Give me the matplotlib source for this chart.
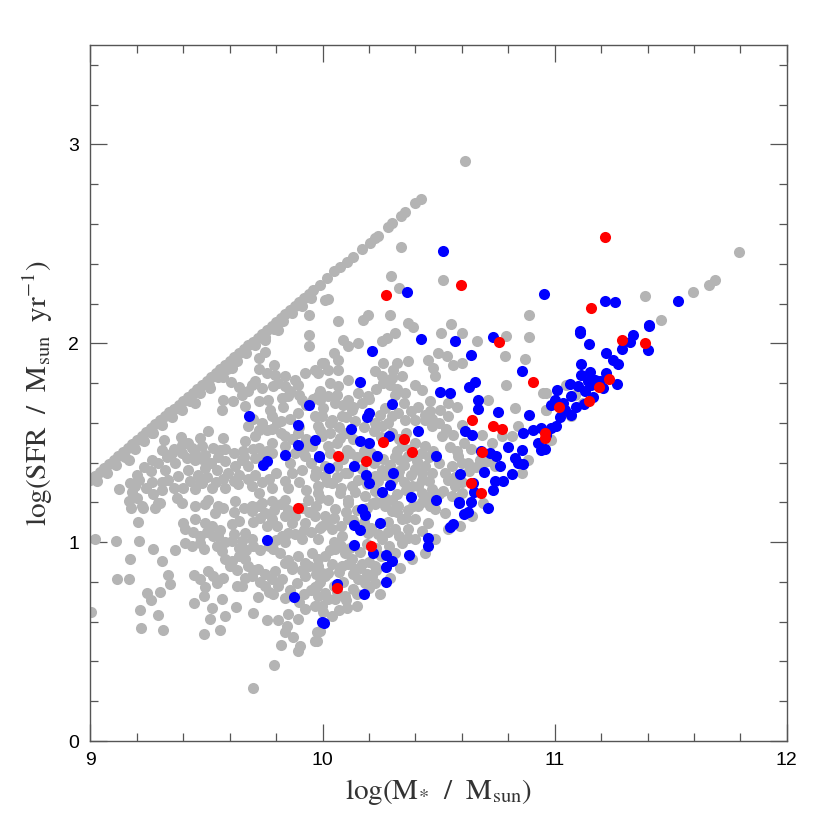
import matplotlib
matplotlib.use("Agg")
import matplotlib.pyplot as plt
from matplotlib.ticker import MultipleLocator

# ---------------- data (log M*, log SFR) ----------------
# gray: upper-envelope sequence
line_x = [9.00, 9.02, 9.04, 9.06, 9.08, 9.10, 9.12, 9.14, 9.16, 9.18, 9.20, 9.22, 9.24, 9.26,
          9.28, 9.30, 9.32, 9.34, 9.36, 9.38, 9.40, 9.42, 9.44, 9.46, 9.48, 9.50, 9.52, 9.54,
          9.56, 9.58, 9.60, 9.62, 9.64, 9.66, 9.68, 9.70, 9.72, 9.74, 9.76, 9.78, 9.80, 9.82,
          9.84, 9.86, 9.88, 9.90, 9.92, 9.94, 9.96, 9.990, 10.018, 10.047, 10.076, 10.104,
          10.133, 10.169, 10.205, 10.226, 10.240, 10.281, 10.301, 10.338, 10.355, 10.398, 10.424,
          9.03, 9.07, 9.11, 9.15, 9.19, 9.23, 9.27, 9.31, 9.35, 9.39, 9.43, 9.47, 9.51, 9.55,
          9.59, 9.63, 9.67, 9.71, 9.75, 9.79, 9.83, 9.87, 9.91, 9.95]
line_y = [1.315, 1.335, 1.355, 1.375, 1.394, 1.414, 1.434, 1.454, 1.474, 1.494, 1.513, 1.533,
          1.553, 1.573, 1.593, 1.612, 1.632, 1.652, 1.672, 1.692, 1.711, 1.731, 1.751, 1.771,
          1.791, 1.810, 1.830, 1.850, 1.870, 1.890, 1.909, 1.929, 1.949, 1.969, 1.989, 2.008,
          2.028, 2.048, 2.068, 2.088, 2.107, 2.127, 2.147, 2.167, 2.187, 2.206, 2.226, 2.246,
          2.266, 2.294, 2.328, 2.361, 2.386, 2.411, 2.436, 2.475, 2.503, 2.528, 2.542, 2.584,
          2.604, 2.640, 2.662, 2.704, 2.726,
          1.31, 1.35, 1.39, 1.43, 1.47, 1.51, 1.55, 1.59, 1.63, 1.67, 1.71, 1.75, 1.79, 1.83,
          1.87, 1.91, 1.95, 1.99, 2.03, 2.07, 2.11, 2.15, 2.19, 2.23]

# gray: main cloud
gray_x = [
    9.941, 9.941, 9.752, 9.752, 9.724, 9.726, 9.792, 9.795, 9.838, 9.881, 9.924, 9.967, 9.996,
    9.606, 9.606, 9.695, 9.738, 9.788, 9.838, 9.896, 9.853, 9.910, 9.982, 9.573, 9.566, 9.616,
    9.652, 9.666, 9.724, 9.766, 9.774, 9.824, 9.831, 9.781, 9.802, 9.759, 9.724, 9.680, 9.709,
    9.896, 9.967, 10.003, 9.982, 9.996, 9.953, 9.924, 10.010, 9.896, 9.838, 9.838, 9.781, 9.759,
    9.724, 9.666, 9.659, 9.709, 9.680, 9.573, 9.508, 9.473, 9.480, 9.437, 9.394, 9.394, 9.351,
    9.308, 9.315, 9.265, 9.322, 9.365, 9.415, 9.451, 9.494, 9.530, 9.559, 9.580, 9.623, 9.652,
    9.594, 9.544, 9.494, 9.465, 9.422, 9.379, 9.336, 9.308, 9.265, 9.207, 9.172, 9.193, 9.121,
    9.164, 9.222, 9.293, 9.372, 9.394, 9.451, 9.480, 9.523, 9.580, 9.637, 9.695, 9.724, 9.781,
    9.838, 9.867, 9.910, 9.967, 9.982, 9.939, 9.838, 9.781, 9.738, 9.695, 9.623, 9.551, 9.508,
    9.451,
    9.164, 9.265, 9.394, 9.451, 9.516, 9.569, 9.609, 9.807, 9.941, 10.010,
    9.021, 9.110, 9.210, 9.169, 9.114, 9.164, 9.002, 9.205, 9.174, 9.225, 9.276, 9.301, 9.269,
    9.308, 9.365, 9.336, 9.344, 9.245, 9.259, 9.301, 9.213, 9.289, 9.219, 9.313, 9.399, 9.444,
    9.473, 9.508, 9.530, 9.573, 9.544, 9.494, 9.487, 9.447, 9.523, 9.566, 9.627, 9.516, 9.580,
    9.559, 9.491, 9.702, 9.761, 9.807, 9.723, 9.785, 9.792, 9.702, 9.821, 9.874, 9.903, 9.896,
    9.967, 9.974, 9.838, 9.845, 9.853, 9.896, 9.924, 9.967, 9.982, 9.967, 9.408, 9.437, 9.473,
    9.487, 9.544, 9.566, 9.580, 9.609, 9.638, 9.666, 9.609, 9.652, 9.666, 9.695, 9.609, 9.638,
    9.695, 9.724, 9.752, 9.781, 9.802, 9.838, 9.867, 9.853, 9.824, 9.788, 9.817, 9.838, 9.867,
    9.896, 9.924, 9.953, 9.982, 9.996, 9.924, 9.888, 9.824, 9.781, 9.752, 9.723, 9.695, 9.666,
    9.652, 9.630, 9.752, 9.795, 9.451, 9.494, 9.523, 9.537, 9.494, 9.573, 9.408, 9.551, 9.924,
    9.967, 9.982, 9.910,
    10.104, 10.150, 10.248, 10.291, 10.334, 10.384, 10.441, 10.484, 10.541, 10.592, 10.642,
    10.692, 9.990, 9.975, 9.997, 10.025, 10.054, 10.097, 10.133, 10.183, 10.212, 10.140, 10.169,
    10.226, 10.312, 10.341, 10.398, 10.427, 10.398, 10.341, 10.298, 10.269, 10.226, 10.111,
    10.054, 10.011, 9.997, 10.040, 10.083, 10.054, 10.097, 10.011, 9.982, 10.025, 10.083,
    10.126, 10.154, 10.226, 9.975, 10.011, 10.484, 10.527, 10.455, 10.369, 10.312, 10.255,
    10.284, 10.197, 10.111,
    10.068, 10.176, 10.367, 10.388, 10.553, 10.510, 10.599, 10.666, 10.792, 10.890, 10.785,
    10.871, 10.792, 10.950, 10.964, 10.828, 10.843, 10.714, 10.580, 10.539, 10.599, 10.685,
    10.728, 10.771, 10.814, 10.857, 10.886, 10.742, 10.714, 10.678, 10.627, 10.584, 10.556,
    10.527, 10.541, 10.570, 10.599, 10.556, 10.520, 10.470, 10.455, 10.412, 10.369, 10.326,
    10.298, 10.384, 10.427, 10.470, 10.441, 10.405, 10.369, 10.334, 10.319, 10.341, 10.398,
    10.441, 10.477, 10.513, 10.470, 10.441, 10.398, 10.355, 10.326, 10.298, 10.283, 10.255,
    10.226, 10.248, 10.269, 10.312, 10.355, 10.398, 10.427, 10.463, 10.463, 10.506, 10.541,
    10.484, 10.477, 10.563, 10.599, 10.534, 10.498, 10.455, 10.369, 10.319, 10.305, 10.262,
    10.226, 10.255, 10.298, 10.341, 10.255, 10.276, 10.312, 10.090, 10.111, 10.154, 10.047,
    10.068, 10.004, 10.025, 10.068, 9.982, 10.111, 10.068, 10.025, 9.990, 10.054, 10.111,
    10.154, 10.197, 10.126, 10.083, 10.040, 9.997, 9.990, 10.033, 10.075, 10.025, 10.104,
    10.061, 10.097, 10.011, 9.982, 10.040, 10.126, 10.154, 10.075, 10.025, 10.111, 10.226,
    10.255, 10.326, 10.183, 10.226, 10.219, 10.427, 10.463,
    10.613, 10.336, 10.295, 10.329, 10.520, 10.025, 10.197, 10.291, 10.891,
    11.456, 10.964, 10.964, 10.986, 11.072, 11.050, 11.086, 11.793, 11.691, 11.665, 11.595,
    11.387, 11.030, 11.120, 10.980,
    # denser core
    9.86, 9.88, 9.92, 9.95, 9.97, 9.90, 9.85, 9.93, 9.99, 9.80, 9.77, 9.74, 9.71, 9.68,
    9.64, 9.62, 9.57, 9.54, 9.50, 9.47, 9.43, 9.40, 9.36, 9.31, 9.27, 9.24, 9.20, 9.18,
    9.62, 9.66, 9.70, 9.73, 9.76, 9.79, 9.82, 9.85, 9.88, 9.91, 9.94, 9.97, 9.99, 9.95,
    9.92, 9.88, 9.84, 9.80, 9.77, 9.73, 9.70, 9.67, 9.64, 9.62, 9.58, 9.56, 9.53, 9.50,
    9.47, 9.44, 9.85, 9.87, 9.91, 9.94, 9.97, 9.99, 9.95, 9.92, 9.90, 9.86, 9.84, 9.81,
    9.77, 9.73, 9.70, 9.68, 9.63, 9.60,
    10.03, 10.07, 10.10, 10.13, 10.06, 10.03, 10.09, 10.12, 10.15, 10.18, 10.21, 10.22,
    10.17, 10.11, 10.06, 10.02, 10.08, 10.14, 10.19, 10.24, 10.27, 10.29, 10.26, 10.31,
    10.35, 10.33, 10.30, 10.35, 10.38, 10.40, 10.43, 10.46, 10.41, 10.36, 10.32, 10.27,
    10.23, 10.19, 10.15, 10.10, 10.05, 10.02, 10.08, 10.13, 10.18, 10.21, 10.24, 10.28,
    10.33, 10.37, 10.36, 10.32, 10.28, 10.39, 10.43, 10.46, 10.50, 10.05, 10.08, 10.03,
    10.12, 10.16, 10.19, 10.23, 10.25, 10.20, 10.16, 10.11, 10.07, 10.04, 10.01, 10.05,
    10.09, 10.13, 10.19, 10.23, 10.06, 10.10, 10.15, 10.20, 10.02, 10.00, 10.04, 10.07,
    9.64, 9.68, 9.71, 9.76, 9.81, 9.86, 9.90, 9.93, 9.96, 9.99, 10.03, 10.06, 10.09, 10.13,
    10.17, 10.20, 10.23, 10.26, 10.29, 10.32, 10.35, 10.38, 10.41, 10.44, 10.47, 10.50,
    10.53, 10.56, 10.55, 10.58, 10.61, 10.64, 10.60, 10.63, 10.66, 10.69, 10.57, 10.60,
    10.50, 10.46, 10.43, 10.38, 10.36, 10.33, 10.30, 10.25, 10.22, 10.18, 10.14, 10.10,
    9.70, 9.74, 9.78, 9.82, 9.86, 9.90, 9.93, 9.87, 9.82, 9.78, 9.74, 9.70, 9.66, 9.62,
    9.58, 9.55, 9.52, 9.48, 9.45, 9.42, 9.39, 9.36, 9.33, 9.29, 9.26, 9.23, 9.20,
]
gray_y = [
    2.043, 1.987, 2.018, 1.954, 1.926, 1.870, 1.889, 1.842, 1.834, 1.817, 1.850, 1.867, 1.900,
    1.803, 1.884, 1.792, 1.775, 1.783, 1.783, 1.792, 1.733, 1.716, 1.733, 1.716, 1.666, 1.708,
    1.742, 1.683, 1.708, 1.716, 1.666, 1.725, 1.680, 1.633, 1.599, 1.566, 1.566, 1.583, 1.532,
    1.650, 1.633, 1.675, 1.583, 1.532, 1.482, 1.432, 1.382, 1.549, 1.532, 1.482, 1.499, 1.457,
    1.474, 1.507, 1.457, 1.424, 1.382, 1.524, 1.557, 1.524, 1.482, 1.474, 1.490, 1.449, 1.449,
    1.465, 1.516, 1.415, 1.365, 1.398, 1.424, 1.415, 1.440, 1.474, 1.465, 1.407, 1.382, 1.415,
    1.348, 1.365, 1.373, 1.340, 1.365, 1.332, 1.315, 1.301, 1.301, 1.315, 1.298, 1.281, 1.265,
    1.206, 1.181, 1.198, 1.223, 1.198, 1.265, 1.298, 1.273, 1.273, 1.290, 1.281, 1.248, 1.273,
    1.306, 1.348, 1.365, 1.332, 1.248, 1.214, 1.214, 1.206, 1.198, 1.181, 1.206, 1.181, 1.214,
    1.181,
    1.415, 1.549, 1.666, 1.700, 1.775, 1.830, 1.875, 2.068, 2.140, 2.219,
    1.014, 1.006, 1.006, 0.917, 0.813, 0.813, 0.649, 1.101, 1.173, 1.173, 1.173, 1.198, 0.964,
    0.905, 0.961, 0.834, 0.788, 0.743, 0.710, 0.750, 0.659, 0.636, 0.567, 0.559, 1.098, 0.835,
    0.813, 0.855, 0.830, 0.822, 0.793, 0.772, 0.730, 0.693, 0.671, 0.713, 0.676, 0.613, 0.629,
    0.559, 0.539, 0.646, 0.609, 0.609, 0.726, 0.741, 0.382, 0.268, 0.485, 0.521, 0.479, 0.454,
    0.504, 0.546, 0.546, 0.579, 0.638, 0.613, 0.663, 0.680, 0.730, 0.772, 0.997, 0.981, 0.997,
    0.964, 0.981, 0.956, 0.914, 0.905, 0.931, 0.914, 1.006, 1.006, 1.048, 1.014, 1.090, 1.106,
    1.156, 1.181, 1.148, 1.115, 1.081, 1.131, 1.098, 1.048, 1.031, 0.964, 0.947, 0.897, 0.864,
    0.931, 0.897, 0.947, 0.914, 0.847, 0.830, 0.797, 0.813, 0.813, 0.838, 0.864, 0.830, 0.822,
    0.780, 0.780, 0.780, 0.855, 1.115, 1.098, 1.081, 1.148, 1.190, 1.173, 1.064, 1.031, 1.098,
    1.131, 1.014, 1.014,
    0.671, 0.680, 0.738, 0.822, 0.872, 0.914, 0.947, 1.014, 1.064, 1.081, 1.131,
    1.198, 0.554, 0.504, 0.680, 0.713, 0.713, 0.730, 0.763, 0.797, 0.830, 0.864, 0.889,
    0.880, 0.947, 0.997, 1.014, 1.056, 1.115, 1.115, 1.156, 1.181, 1.190, 1.198,
    1.165, 1.131, 1.081, 1.064, 1.031, 0.964, 0.947, 0.931, 0.880, 0.847, 0.880,
    0.914, 0.813, 0.797, 0.780, 0.746, 1.165, 1.148, 1.098, 1.064, 1.064, 1.014,
    0.981, 1.048, 1.115,
    2.110, 2.118, 2.101, 2.081, 2.098, 2.054, 2.051, 2.013, 2.039, 2.034, 1.934,
    1.921, 1.792, 1.750, 1.666, 1.675, 1.586, 1.713, 1.680, 1.633, 1.591, 1.541,
    1.499, 1.532, 1.532, 1.348, 1.415, 1.382, 1.407, 1.415, 1.398, 1.432, 1.382,
    1.348, 1.315, 1.281, 1.248, 1.231, 1.256, 1.265, 1.214, 1.181, 1.164, 1.181,
    1.214, 1.281, 1.315, 1.348, 1.382, 1.407, 1.432, 1.415, 1.457, 1.482, 1.499,
    1.482, 1.457, 1.532, 1.583, 1.616, 1.616, 1.616, 1.650, 1.633, 1.599, 1.583,
    1.599, 1.641, 1.675, 1.742, 1.750, 1.792, 1.767, 1.708, 1.658, 1.666, 1.700,
    1.834, 1.875, 1.892, 1.900, 1.934, 1.951, 1.917, 1.909, 1.900, 1.867, 1.900,
    1.859, 1.834, 1.825, 1.834, 2.009, 2.026, 2.051, 2.018, 1.984, 2.001, 1.951,
    1.917, 1.900, 1.867, 1.867, 1.850, 1.817, 1.783, 1.733, 1.716, 1.700, 1.716,
    1.750, 1.733, 1.666, 1.633, 1.616, 1.633, 1.566, 1.549, 1.524, 1.482, 1.465,
    1.382, 1.348, 1.332, 1.281, 1.298, 1.281, 1.315, 1.248, 1.214, 1.214, 1.332,
    1.365, 1.332, 1.231, 1.256, 1.198, 1.248, 1.181,
    2.917, 2.483, 2.339, 2.276, 2.318, 2.222, 2.143, 2.140, 2.140,
    2.115, 1.750, 1.666, 1.516, 1.633, 1.792, 1.742, 2.458, 2.316, 2.291, 2.257,
    2.237, 1.660, 1.700, 1.520,
    # denser core
    1.40, 1.45, 1.47, 1.40, 1.36, 1.30, 1.27, 1.26, 1.22, 1.35, 1.32, 1.30, 1.34, 1.32,
    1.34, 1.31, 1.32, 1.30, 1.33, 1.30, 1.31, 1.27, 1.27, 1.26, 1.24, 1.27, 1.22, 1.25,
    1.15, 1.17, 1.10, 1.12, 1.08, 1.16, 1.19, 1.16, 1.13, 1.17, 1.15, 1.18, 1.07, 1.05,
    1.06, 1.04, 1.00, 1.01, 0.98, 0.96, 0.98, 0.96, 0.97, 1.04, 1.00, 1.06, 1.03, 1.05,
    1.03, 1.05, 0.91, 0.88, 0.86, 0.88, 0.84, 0.80, 0.76, 0.74, 0.70, 0.76, 0.72, 0.78,
    0.75, 0.80, 0.86, 0.88, 0.86, 0.88,
    1.60, 1.58, 1.55, 1.52, 1.50, 1.45, 1.42, 1.45, 1.43, 1.46, 1.45, 1.40,
    1.37, 1.35, 1.33, 1.30, 1.27, 1.25, 1.29, 1.31, 1.34, 1.39, 1.42, 1.43,
    1.39, 1.36, 1.31, 1.30, 1.34, 1.37, 1.35, 1.31, 1.28, 1.26, 1.24, 1.22,
    1.20, 1.17, 1.16, 1.15, 1.12, 1.10, 1.08, 1.11, 1.10, 1.07, 1.04, 1.05,
    1.03, 1.02, 1.12, 1.15, 1.10, 1.18, 1.20, 1.23, 1.24, 1.00, 0.98, 0.96,
    0.97, 0.95, 0.99, 0.97, 0.93, 0.90, 0.87, 0.89, 0.85, 0.89, 0.83, 0.78,
    0.80, 0.84, 0.84, 0.86, 0.75, 0.71, 0.74, 0.77, 0.72, 0.65, 0.63, 0.66,
    1.78, 1.76, 1.81, 1.85, 1.80, 1.76, 1.74, 1.69, 1.72, 1.76, 1.80, 1.74, 1.69, 1.68,
    1.70, 1.72, 1.77, 1.80, 1.79, 1.77, 1.70, 1.66, 1.68, 1.64, 1.62, 1.60,
    1.57, 1.54, 1.48, 1.46, 1.50, 1.47, 1.40, 1.36, 1.38, 1.40, 1.33, 1.30,
    1.40, 1.43, 1.45, 1.47, 1.55, 1.52, 1.55, 1.53, 1.56, 1.58, 1.61, 1.63,
    1.62, 1.60, 1.57, 1.61, 1.62, 1.58, 1.52, 1.52, 1.55, 1.45, 1.43, 1.47, 1.43, 1.45,
    1.47, 1.43, 1.40, 1.42, 1.45, 1.50, 1.53, 1.47, 1.43, 1.40, 1.36, 1.38, 1.34,
]

# blue sample
blue_x = [
    10.517, 10.362, 10.952, 11.215, 11.258, 11.532, 11.406, 11.108,
    11.108, 11.146, 11.338, 11.323, 11.292, 11.406, 11.400, 11.222, 11.251, 11.272, 11.115,
    11.115, 11.151, 11.222, 11.143, 11.172, 11.194, 11.158, 11.208, 11.270, 11.065, 11.100,
    11.129, 11.011, 11.069, 11.000, 11.036, 10.986, 11.165, 11.126, 11.093, 11.043, 11.072,
    11.022, 11.007, 10.986, 10.964, 10.957,
    10.424, 10.569, 10.732, 10.215, 10.639, 10.861, 10.160, 10.656, 10.632, 10.507, 10.550,
    10.299, 10.668, 10.670, 10.202, 10.190, 10.754, 10.890, 10.123, 10.412, 10.613, 10.642,
    10.286, 10.162, 10.202, 10.236, 10.488, 9.985, 10.028, 10.137, 10.303, 10.187, 10.200,
    10.291, 10.258, 10.382, 10.487, 10.594, 10.695, 10.648, 10.653, 10.736, 10.589, 10.639,
    10.744, 10.779, 10.817, 10.682, 10.721, 10.749, 10.764, 10.797, 10.828, 10.843, 10.864,
    10.857, 10.864, 10.907, 10.943, 10.929, 10.943, 10.714,
    9.941, 9.685, 9.893, 9.966, 9.893, 9.840, 9.984, 9.762, 9.742,
    9.761, 9.877, 9.996,
    10.169, 10.183, 10.137, 10.162, 10.248, 10.137, 10.219, 10.272, 10.298, 10.272, 10.372,
    10.272, 10.177, 10.061, 10.008, 10.453, 10.453, 10.549, 10.563, 10.610, 10.628, 10.589,
]
blue_y = [
    2.465, 2.257, 2.249, 2.214, 2.207, 2.215, 2.090, 2.063,
    2.054, 1.994, 2.044, 2.004, 1.972, 2.088, 1.964, 1.949, 1.914, 1.897, 1.895,
    1.842, 1.854, 1.850, 1.808, 1.817, 1.808, 1.792, 1.775, 1.797, 1.797, 1.783,
    1.758, 1.763, 1.733, 1.716, 1.700, 1.691, 1.730, 1.695, 1.680, 1.666, 1.641,
    1.629, 1.583, 1.574, 1.541, 1.469,
    2.021, 2.014, 2.031, 1.959, 1.939, 1.860, 1.805, 1.805, 1.780, 1.755, 1.750,
    1.696, 1.716, 1.670, 1.649, 1.629, 1.654, 1.638, 1.571, 1.557, 1.557, 1.541,
    1.532, 1.511, 1.499, 1.435, 1.435, 1.432, 1.372, 1.385, 1.348, 1.338, 1.295,
    1.286, 1.253, 1.229, 1.211, 1.345, 1.353, 1.295, 1.253, 1.261, 1.203, 1.203,
    1.310, 1.306, 1.345, 1.457, 1.449, 1.432, 1.382, 1.479, 1.424, 1.398, 1.395,
    1.465, 1.549, 1.566, 1.574, 1.499, 1.465, 1.173,
    1.688, 1.633, 1.589, 1.516, 1.489, 1.437, 1.430, 1.407, 1.387,
    1.009, 0.726, 0.599,
    1.165, 1.135, 1.085, 1.061, 1.095, 0.984, 0.944, 0.934, 0.905, 0.877, 0.937,
    0.802, 0.741, 0.788, 0.593, 1.019, 0.981, 1.078, 1.090, 1.140, 1.151, 1.195,
]

# red sample
red_x = [10.272, 10.596, 11.216, 11.156, 11.292, 11.387, 11.234, 11.191, 11.148, 11.017,
         10.759, 10.907, 10.645, 10.735, 10.774, 10.957, 10.960, 10.259, 10.351, 10.387,
         10.067, 10.189, 10.688, 10.639, 10.683, 9.896, 10.209, 10.064]
red_y = [2.242, 2.291, 2.535, 2.175, 2.018, 1.999, 1.818, 1.778, 1.711, 1.681,
         2.004, 1.805, 1.616, 1.583, 1.571, 1.549, 1.524, 1.504, 1.519, 1.454,
         1.435, 1.407, 1.454, 1.298, 1.248, 1.173, 0.981, 0.767]

# ---------------- plot ----------------
plt.rcParams['mathtext.fontset'] = 'stix'
fig = plt.figure(figsize=(8.3, 8.3), dpi=100)
ax = fig.add_axes([0.109, 0.1072, 0.839, 0.8386])

ms = 64
ax.scatter(line_x, line_y, s=ms, c='#b4b4b4', linewidths=0, zorder=2)
ax.scatter(gray_x, gray_y, s=ms, c='#b4b4b4', linewidths=0, zorder=2)
ax.scatter(blue_x, blue_y, s=ms, c='#0000ff', linewidths=0, zorder=3)
ax.scatter(red_x, red_y, s=ms, c='#ff0000', linewidths=0, zorder=4)

ax.set_xlim(9, 12)
ax.set_ylim(0, 3.5)
ax.xaxis.set_major_locator(MultipleLocator(1))
ax.xaxis.set_minor_locator(MultipleLocator(0.2))
ax.yaxis.set_major_locator(MultipleLocator(1))
ax.yaxis.set_minor_locator(MultipleLocator(0.2))

spine_col = '#555555'
for s in ax.spines.values():
    s.set_color(spine_col)
    s.set_linewidth(1.0)
ax.tick_params(which='both', direction='in', top=True, right=True, color=spine_col,
               width=0.9, labelsize=14, pad=8, labelcolor='black')
ax.tick_params(which='major', length=12)
ax.tick_params(which='minor', length=6)
for lab in ax.get_xticklabels() + ax.get_yticklabels():
    lab.set_family('Liberation Sans')

ax.set_xlabel(r'$\mathrm{log(M_{*}\ \ /\ \ M_{sun})}$', fontsize=21, color='#333333', labelpad=6)
ax.set_ylabel(r'$\mathrm{log(SFR\ \ /\ \ M_{sun}\ \ yr^{-1})}$', fontsize=21, color='#333333',
              labelpad=10)

fig.savefig('out.png', dpi=100)
